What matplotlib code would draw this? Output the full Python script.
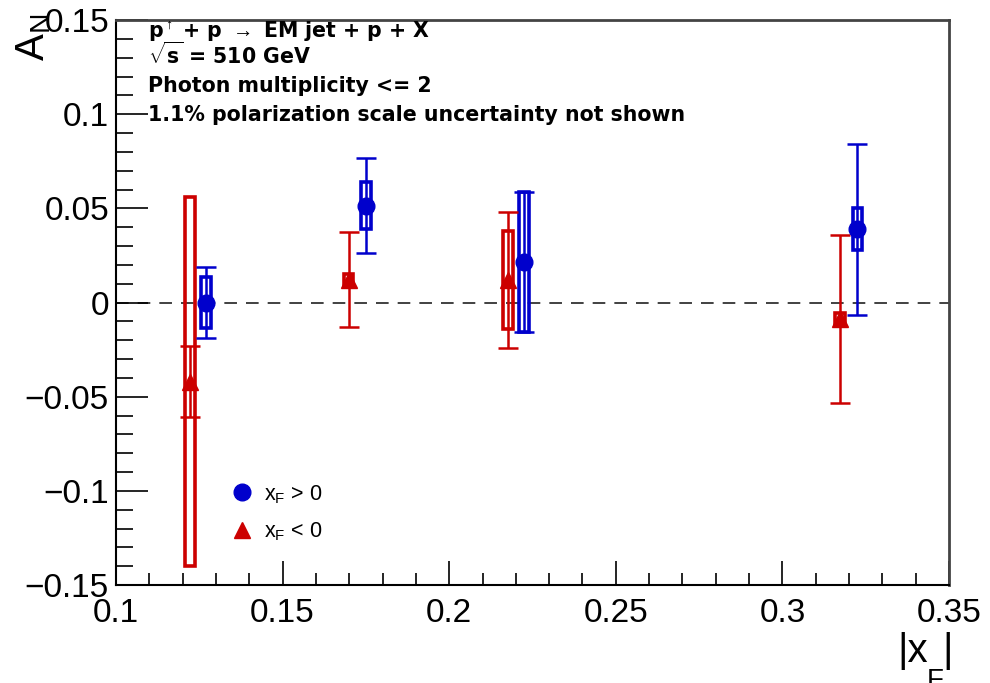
import numpy as np
import matplotlib
matplotlib.use("Agg")
import matplotlib.pyplot as plt
from matplotlib.patches import Rectangle
from matplotlib.lines import Line2D

plt.rcParams['font.family'] = ['Liberation Sans', 'DejaVu Sans']
plt.rcParams['mathtext.fontset'] = 'custom'
plt.rcParams['mathtext.rm'] = 'Liberation Sans'
plt.rcParams['mathtext.it'] = 'Liberation Sans'
plt.rcParams['mathtext.bf'] = 'DejaVu Sans:bold'

# x_F > 0 (blue circles)
xf_pos = [0.127, 0.175, 0.2225, 0.3225]
an_pos = [0.0, 0.0515, 0.0215, 0.039]
stat_pos = [0.019, 0.025, 0.037, 0.0454]
sys_pos = [0.0135, 0.0125, 0.037, 0.011]

# x_F < 0 (red triangles)
xf_neg = [0.1222, 0.1698, 0.2177, 0.3173]
an_neg = [-0.042, 0.0122, 0.012, -0.0088]
stat_neg = [0.019, 0.025, 0.036, 0.0448]
sys_neg = [0.098, 0.003, 0.026, 0.003]

blue = '#0000cc'
red = '#cc0000'
boxw = 0.0029

fig = plt.figure(figsize=(9.9, 6.83), dpi=100)
ax = fig.add_axes([116/990, 1-585/683, 833/990, 565/683])

ax.axhline(0, color='#333333', lw=1.3, ls=(0, (7, 5)), zorder=1)

# systematic boxes
for x, y, s in zip(xf_neg, an_neg, sys_neg):
    ax.add_patch(Rectangle((x-boxw/2, y-s), boxw, 2*s, fill=False,
                           edgecolor=red, lw=2.6, zorder=2))
for x, y, s in zip(xf_pos, an_pos, sys_pos):
    ax.add_patch(Rectangle((x-boxw/2, y-s), boxw, 2*s, fill=False,
                           edgecolor=blue, lw=2.6, zorder=2))

ax.errorbar(xf_neg, an_neg, yerr=stat_neg, fmt='^', color=red, ms=11,
            elinewidth=1.8, capsize=7, capthick=1.8, zorder=3)
ax.errorbar(xf_pos, an_pos, yerr=stat_pos, fmt='o', color=blue, ms=12,
            elinewidth=1.8, capsize=7, capthick=1.8, zorder=3)

ax.set_xlim(0.1, 0.35)
ax.set_ylim(-0.15, 0.15)
ax.set_xticks([0.1, 0.15, 0.2, 0.25, 0.3, 0.35])
ax.set_xticklabels(['0.1', '0.15', '0.2', '0.25', '0.3', '0.35'])
ax.set_xticks(np.arange(0.11, 0.35, 0.01), minor=True)
ax.set_yticks([-0.15, -0.1, -0.05, 0, 0.05, 0.1, 0.15])
ax.set_yticklabels(['\u22120.15', '\u22120.1', '\u22120.05', '0', '0.05', '0.1', '0.15'])
ax.set_yticks(np.arange(-0.14, 0.15, 0.01), minor=True)
ax.tick_params(which='both', direction='in', labelsize=24, top=False, right=False)
ax.tick_params(which='major', axis='y', length=23, width=1.2, pad=5)
ax.tick_params(which='minor', axis='y', length=12, width=1.2)
ax.tick_params(which='major', axis='x', length=17, width=1.2, pad=9)
ax.tick_params(which='minor', axis='x', length=9, width=1.2)
for sp in ['left', 'bottom']:
    ax.spines[sp].set_linewidth(1.5)
for sp in ['top', 'right']:
    ax.spines[sp].set_linewidth(2)
    ax.spines[sp].set_color('#444444')

# text block
tx = 148/990
bold = dict(transform=fig.transFigure, fontsize=14.8, fontweight='bold',
            family='DejaVu Sans')
ax.text(tx, 1-38/683, r'p$^{\uparrow}$ + p $\rightarrow$ EM jet + p + X', **bold)
ax.text(tx, 1-64/683, r'$\sqrt{\mathbf{s}}$ = 510 GeV', **bold)
ax.text(tx, 1-92/683, 'Photon multiplicity <= 2', **bold)
ax.text(tx, 1-121/683, '1.1% polarization scale uncertainty not shown', **bold)

# axis titles
fig.text(34/990, 1-14/683, r'A$_\mathregular{N}$', rotation=90, fontsize=29,
         ha='center', va='top')
fig.text(897/990, 1-662/683, '|x', fontsize=29, ha='left', va='baseline')
fig.text(927/990, 1-688/683, 'F', fontsize=20, ha='left', va='baseline')
fig.text(942/990, 1-662/683, '|', fontsize=29, ha='left', va='baseline')

handles = [Line2D([], [], ls='none', marker='o', color=blue, ms=12),
           Line2D([], [], ls='none', marker='^', color=red, ms=11)]
ax.legend(handles, [r'x$_\mathregular{F}$ > 0', r'x$_\mathregular{F}$ < 0'],
          loc='upper left', bbox_to_anchor=(0.11, 0.215), frameon=False,
          fontsize=15.5, handletextpad=0.3, labelspacing=0.7, handlelength=1.4)

fig.savefig('out.png', dpi=100)
